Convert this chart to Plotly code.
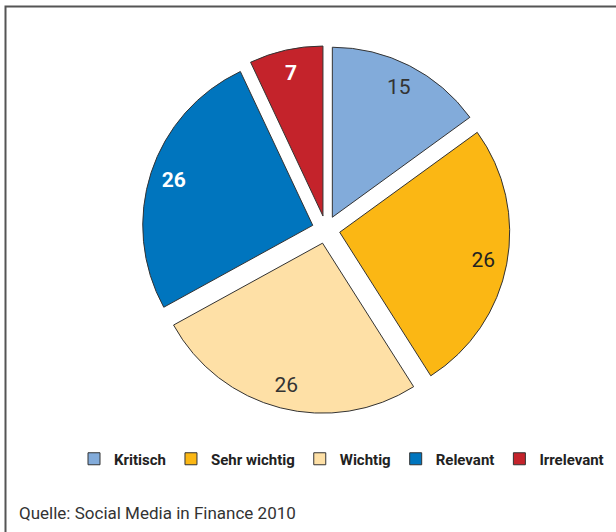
import plotly.graph_objects as go

categories = ["Kritisch", "Sehr wichtig", "Wichtig", "Relevant", "Irrelevant"]
values = [15, 26, 26, 26, 7]
colors = ["#82ABDA", "#FBB714", "#FEE0A6", "#0075BE", "#C4232B"]
label_colors = ["#333333", "#222222", "#333333", "#FFFFFF", "#FFFFFF"]
label_weights = ["normal", "normal", "normal", "bold", "bold"]
source = "Quelle: Social Media in Finance 2010"

W, H = 616, 532
PULL = 0.082
DOMAIN = dict(x=[142 / W, 510 / W], y=[1 - 413.6 / H, 1 - 45.7 / H])

# filled slices
fig = go.Figure(go.Pie(
    labels=categories,
    values=values,
    sort=False,
    direction="clockwise",
    rotation=0,
    pull=PULL,
    marker=dict(colors=colors, line=dict(color="#333333", width=1)),
    textinfo="none",
    domain=DOMAIN,
    hoverinfo="label+value",
))

# value labels placed in the outer ring of each slice
fig.add_trace(go.Pie(
    labels=categories,
    values=values,
    sort=False,
    direction="clockwise",
    rotation=0,
    pull=PULL,
    hole=0.72,
    marker=dict(colors=["rgba(0,0,0,0)"] * len(values), line=dict(width=0)),
    textinfo="value",
    textposition="inside",
    insidetextorientation="horizontal",
    textfont=dict(family="Roboto", size=21, color=label_colors, weight=label_weights),
    domain=DOMAIN,
    showlegend=False,
    hoverinfo="skip",
))

fig.update_layout(
    width=W, height=H,
    margin=dict(l=0, r=0, t=0, b=0),
    paper_bgcolor="white",
    plot_bgcolor="white",
    font=dict(family="Roboto", color="#222222"),
    showlegend=True,
    legend=dict(
        orientation="h",
        x=74 / W, xanchor="left",
        y=1 - 459 / H, yanchor="middle",
        font=dict(family="Roboto", size=15, color="#222222", weight="bold"),
        itemwidth=30,
        tracegroupgap=0,
        bgcolor="rgba(0,0,0,0)",
    ),
    shapes=[dict(
        type="rect", xref="paper", yref="paper",
        x0=5.5 / W, x1=1.02, y0=-0.02, y1=1 - 6.5 / H,
        line=dict(color="#555555", width=2), fillcolor="rgba(0,0,0,0)",
    )],
    annotations=[dict(
        text=source, xref="paper", yref="paper",
        x=17 / W, y=1 - 513 / H, xanchor="left", yanchor="middle",
        showarrow=False, font=dict(family="Roboto", size=17, color="#333333"),
    )],
)

fig.write_html("out.html")
